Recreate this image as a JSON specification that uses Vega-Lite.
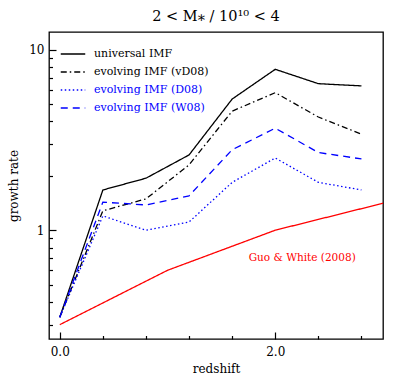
{
  "$schema": "https://vega.github.io/schema/vega-lite/v6.json",
  "autosize": {"type": "none"},
  "padding": {"left": 49, "top": 32, "right": 32, "bottom": 47},
  "width": 334,
  "height": 307,
  "title": {"text": "2 < M⁎ / 10¹⁰ < 4", "font": "DejaVu Serif", "fontSize": 14.5, "fontWeight": "normal", "color": "black", "offset": 8},
  "config": {
    "view": {"stroke": "black", "strokeWidth": 1.3},
    "axis": {"labelColor": "black", "labelFont": "DejaVu Serif", "labelFontSize": 12, "titleFont": "DejaVu Serif", "titleFontSize": 12, "titleFontWeight": "normal", "titleColor": "black"}
  },
  "datasets": {
    "curves": [
      {"series": "universal IMF", "z": 0.0, "rate": 0.33},
      {"series": "universal IMF", "z": 0.4, "rate": 1.67},
      {"series": "universal IMF", "z": 0.8, "rate": 1.94},
      {"series": "universal IMF", "z": 1.2, "rate": 2.61},
      {"series": "universal IMF", "z": 1.6, "rate": 5.32},
      {"series": "universal IMF", "z": 2.0, "rate": 7.77},
      {"series": "universal IMF", "z": 2.4, "rate": 6.47},
      {"series": "universal IMF", "z": 2.8, "rate": 6.29},
      {"series": "evolving IMF (vD08)", "z": 0.0, "rate": 0.33},
      {"series": "evolving IMF (vD08)", "z": 0.4, "rate": 1.28},
      {"series": "evolving IMF (vD08)", "z": 0.8, "rate": 1.49},
      {"series": "evolving IMF (vD08)", "z": 1.2, "rate": 2.30},
      {"series": "evolving IMF (vD08)", "z": 1.6, "rate": 4.56},
      {"series": "evolving IMF (vD08)", "z": 2.0, "rate": 5.77},
      {"series": "evolving IMF (vD08)", "z": 2.4, "rate": 4.23},
      {"series": "evolving IMF (vD08)", "z": 2.8, "rate": 3.40},
      {"series": "evolving IMF (D08)", "z": 0.0, "rate": 0.33},
      {"series": "evolving IMF (D08)", "z": 0.4, "rate": 1.20},
      {"series": "evolving IMF (D08)", "z": 0.8, "rate": 1.00},
      {"series": "evolving IMF (D08)", "z": 1.2, "rate": 1.11},
      {"series": "evolving IMF (D08)", "z": 1.6, "rate": 1.84},
      {"series": "evolving IMF (D08)", "z": 2.0, "rate": 2.51},
      {"series": "evolving IMF (D08)", "z": 2.4, "rate": 1.84},
      {"series": "evolving IMF (D08)", "z": 2.8, "rate": 1.67},
      {"series": "evolving IMF (W08)", "z": 0.0, "rate": 0.33},
      {"series": "evolving IMF (W08)", "z": 0.4, "rate": 1.43},
      {"series": "evolving IMF (W08)", "z": 0.8, "rate": 1.38},
      {"series": "evolving IMF (W08)", "z": 1.2, "rate": 1.55},
      {"series": "evolving IMF (W08)", "z": 1.6, "rate": 2.79},
      {"series": "evolving IMF (W08)", "z": 2.0, "rate": 3.67},
      {"series": "evolving IMF (W08)", "z": 2.4, "rate": 2.69},
      {"series": "evolving IMF (W08)", "z": 2.8, "rate": 2.48},
      {"series": "Guo & White (2008)", "z": 0.0, "rate": 0.30},
      {"series": "Guo & White (2008)", "z": 1.0, "rate": 0.60},
      {"series": "Guo & White (2008)", "z": 2.0, "rate": 1.00},
      {"series": "Guo & White (2008)", "z": 3.0, "rate": 1.41}
    ],
    "notes": [
      {"z": 2.25, "rate": 0.70, "label": "Guo & White (2008)"}
    ]
  },
  "layer": [
    {
      "data": {"name": "curves"},
      "mark": {"type": "line", "strokeWidth": 1.3},
      "encoding": {
        "x": {"field": "z", "type": "quantitative",
          "scale": {"domain": [-0.1, 3.0], "nice": false, "zero": false},
          "axis": {"orient": "bottom", "title": "redshift", "titlePadding": 6, "domain": false, "grid": false,
            "ticks": true, "tickColor": "black", "tickWidth": 1.2,
            "values": [0, 0.1, 0.2, 0.3, 0.4, 0.5, 0.6, 0.7, 0.8, 0.9, 1, 1.1, 1.2, 1.3, 1.4, 1.5, 1.6, 1.7, 1.8, 1.9, 2, 2.1, 2.2, 2.3, 2.4, 2.5, 2.6, 2.7, 2.8, 2.9, 3],
            "format": ".1f",
            "labelExpr": "abs(datum.value*2 - round(datum.value*2)) < 0.001 ? datum.label : ''",
            "tickSize": {"condition": {"test": "abs(datum.value*2 - round(datum.value*2)) < 0.001", "value": -7}, "value": -3.5},
            "labelPadding": 14, "labelFlush": false}},
        "y": {"field": "rate", "type": "quantitative",
          "scale": {"type": "log", "domain": [0.25, 12.5], "nice": false},
          "axis": {"orient": "left", "title": "growth rate", "titlePadding": 8, "domain": false, "grid": false,
            "ticks": true, "tickColor": "black", "tickWidth": 1.2,
            "values": [0.3, 0.4, 0.5, 0.6, 0.7, 0.8, 0.9, 1, 2, 3, 4, 5, 6, 7, 8, 9, 10],
            "labelExpr": "datum.value == 1 || datum.value == 10 ? datum.label : ''",
            "tickSize": {"condition": {"test": "datum.value == 1 || datum.value == 10", "value": -7}, "value": -3.5},
            "labelPadding": 12}},
        "color": {"field": "series", "type": "nominal",
          "scale": {"domain": ["universal IMF", "evolving IMF (vD08)", "evolving IMF (D08)", "evolving IMF (W08)", "Guo & White (2008)"],
            "range": ["black", "black", "blue", "blue", "red"]},
          "legend": {"values": ["universal IMF", "evolving IMF (vD08)", "evolving IMF (D08)", "evolving IMF (W08)"],
            "title": null, "orient": "none", "legendX": 11, "legendY": 9,
            "symbolType": "stroke", "symbolSize": 600, "symbolStrokeWidth": 1.3,
            "labelFont": "DejaVu Serif", "labelFontSize": 11, "labelOffset": 8, "rowPadding": 0, "padding": 0,
            "encode": {"labels": {"update": {"fill": {"signal": "indexof(datum.label, 'D08)') >= 0 && indexof(datum.label, 'vD08') < 0 || indexof(datum.label, 'W08') >= 0 ? 'blue' : 'black'"}}}}}},
        "strokeDash": {"field": "series", "type": "nominal",
          "scale": {"domain": ["universal IMF", "evolving IMF (vD08)", "evolving IMF (D08)", "evolving IMF (W08)", "Guo & White (2008)"],
            "range": [[1, 0], [6, 3, 1.5, 3], [1.5, 2.5], [7, 5], [1, 0]]},
          "legend": {"values": ["universal IMF", "evolving IMF (vD08)", "evolving IMF (D08)", "evolving IMF (W08)"], "title": null}}
      }
    },
    {
      "data": {"name": "notes"},
      "mark": {"type": "text", "color": "red", "font": "DejaVu Serif", "fontSize": 10.5, "align": "center", "baseline": "middle"},
      "encoding": {
        "x": {"field": "z", "type": "quantitative"},
        "y": {"field": "rate", "type": "quantitative"},
        "text": {"field": "label"}
      }
    }
  ]
}
